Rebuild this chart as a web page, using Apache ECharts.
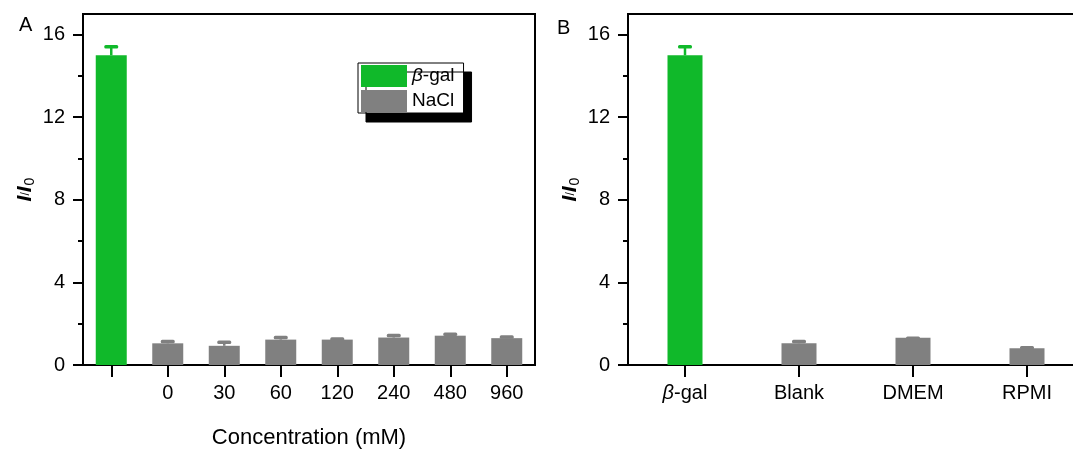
<!DOCTYPE html>
<html>
<head>
<meta charset="utf-8">
<script src="https://cdn.jsdelivr.net/npm/echarts@6/dist/echarts.min.js"></script>
<style>html,body{margin:0;padding:0;background:#fff}#c{width:1073px;height:451px}</style>
</head>
<body>
<div id="c"></div>
<script>
// ---- data ----
const catsA = ['', '0', '30', '60', '120', '240', '480', '960'];
const galA = 15.0, galErrA = 0.5;
const naclA = [1.05, 0.93, 1.23, 1.23, 1.33, 1.42, 1.3];
const naclErrA = [0.17, 0.26, 0.19, 0.11, 0.18, 0.15, 0.14];
const catsB = ['β-gal', 'Blank', 'DMEM', 'RPMI'];
const galB = 15.0, galErrB = 0.5;
const otherB = [1.05, 1.32, 0.81];
const otherErrB = [0.17, 0.06, 0.11];
const yTicks = [0, 4, 8, 12, 16];
const yMinor = [2, 6, 10, 14];

const GREEN = '#10b92a', GRAY = '#808080';
const FONT = 'Liberation Sans, Arial, sans-serif';

function errRender(params, api) {
  const x = api.value(0), v = api.value(1), e = api.value(2);
  const base = api.coord([x, v]);
  const top = api.coord([x, v + e]);
  const col = api.visual('color');
  return {
    type: 'group',
    children: [
      { type: 'line', shape: { x1: base[0], y1: base[1], x2: top[0], y2: top[1] + 1 },
        style: { stroke: col, lineWidth: 2.5 } },
      { type: 'rect', shape: { x: top[0] - 7, y: top[1], width: 14, height: 3.5, r: 1.5 },
        style: { fill: col } }
    ]
  };
}

const chart = echarts.init(document.getElementById('c'), null, { renderer: 'canvas' });

function yAxesFor(gridIndex) {
  return [
    {
      type: 'value', gridIndex, min: 0, max: 17, position: 'left',
      name: '{i|I}/{i|I}{s|0}', nameLocation: 'middle', nameGap: 46, nameRotate: 90,
      nameTextStyle: { fontFamily: FONT, color: '#000',
        rich: { i: { fontStyle: 'italic', fontWeight: 'bold', fontSize: 21, fontFamily: FONT, color: '#000' },
                s: { fontSize: 14, fontFamily: FONT, color: '#000', verticalAlign: 'bottom', padding: [9, 0, 0, 1] } } },
      axisLine: { show: true, lineStyle: { color: '#000', width: 2 } },
      axisTick: { show: true, inside: false, length: 10, lineStyle: { color: '#000', width: 2 }, customValues: yTicks },
      axisLabel: { fontFamily: FONT, fontSize: 20, color: '#000', margin: 18, customValues: yTicks },
      splitLine: { show: false }
    },
    {
      type: 'value', gridIndex, min: 0, max: 17, position: 'left', offset: 0,
      axisLine: { show: false },
      axisTick: { show: true, inside: false, length: 5, lineStyle: { color: '#000', width: 2 }, customValues: yMinor },
      axisLabel: { show: false },
      splitLine: { show: false }
    }
  ];
}

const yA = yAxesFor(0), yB = yAxesFor(1);
const xTick = { show: true, interval: 0, alignWithLabel: true, inside: false, length: 12, lineStyle: { color: '#000', width: 2 } };

const option = {
  animation: false,
  backgroundColor: '#fff',
  title: [
    { text: 'A', left: 19, top: 15, padding: 0, textStyle: { fontFamily: FONT, fontSize: 20, fontWeight: 'normal', color: '#000' } },
    { text: 'B', left: 557, top: 18, padding: 0, textStyle: { fontFamily: FONT, fontSize: 20, fontWeight: 'normal', color: '#000' } }
  ],
  grid: [
    { left: 83, top: 14, width: 452, height: 351, show: true, borderColor: '#000', borderWidth: 2,
      containLabel: false, outerBoundsMode: 'none' },
    { left: 628, top: 14, width: 456, height: 351, show: true, borderColor: '#000', borderWidth: 2,
      containLabel: false, outerBoundsMode: 'none' }
  ],
  legend: {
    data: ['β-gal', 'NaCl'],
    orient: 'vertical', left: 358, top: 63,
    icon: 'rect',
    itemWidth: 46, itemHeight: 22, itemGap: 3,
    padding: [2, 9, 1, 3],
    borderColor: '#000', borderWidth: 1, backgroundColor: '#fff',
    shadowColor: '#000', shadowOffsetX: 8, shadowOffsetY: 9, shadowBlur: 0,
    selectedMode: false,
    formatter: n => n === 'β-gal' ? '{it|β}-gal' : n,
    textStyle: { fontFamily: FONT, fontSize: 19, color: '#000',
      rich: { it: { fontStyle: 'italic', fontFamily: FONT, fontSize: 19, color: '#000' } } }
  },
  xAxis: [
    {
      type: 'category', gridIndex: 0, data: catsA,
      name: 'Concentration (mM)', nameLocation: 'middle', nameGap: 62,
      nameTextStyle: { fontFamily: FONT, fontSize: 22, color: '#000' },
      axisLine: { show: true, lineStyle: { color: '#000', width: 2 } },
      axisTick: xTick,
      axisLabel: { fontFamily: FONT, fontSize: 20, color: '#000', margin: 18, interval: 0 }
    },
    {
      type: 'category', gridIndex: 1, data: catsB,
      axisLine: { show: true, lineStyle: { color: '#000', width: 2 } },
      axisTick: xTick,
      axisLabel: { fontFamily: FONT, fontSize: 20, color: '#000', margin: 18, interval: 0,
        formatter: v => v === 'β-gal' ? '{it|β}-gal' : v,
        rich: { it: { fontStyle: 'italic', fontFamily: FONT, fontSize: 20, color: '#000' } } }
    }
  ],
  yAxis: [yA[0], yA[1], yB[0], yB[1]],
  series: [
    { name: 'β-gal', type: 'bar', xAxisIndex: 0, yAxisIndex: 0, barWidth: 31, barGap: '-100%',
      itemStyle: { color: GREEN }, data: [galA].concat(naclA.map(() => '-')) },
    { name: 'NaCl', type: 'bar', xAxisIndex: 0, yAxisIndex: 0, barWidth: 31, barGap: '-100%',
      itemStyle: { color: GRAY }, data: ['-'].concat(naclA) },
    { name: 'errA-gal', type: 'custom', xAxisIndex: 0, yAxisIndex: 0, renderItem: errRender,
      itemStyle: { color: GREEN }, z: 1, data: [[0, galA, galErrA]] },
    { name: 'errA-nacl', type: 'custom', xAxisIndex: 0, yAxisIndex: 0, renderItem: errRender,
      itemStyle: { color: GRAY }, z: 1, data: naclA.map((v, i) => [i + 1, v, naclErrA[i]]) },
    { name: 'B-gal', type: 'bar', xAxisIndex: 1, yAxisIndex: 2, barWidth: 35, barGap: '-100%',
      itemStyle: { color: GREEN }, data: [galB, '-', '-', '-'] },
    { name: 'B-other', type: 'bar', xAxisIndex: 1, yAxisIndex: 2, barWidth: 35, barGap: '-100%',
      itemStyle: { color: GRAY }, data: ['-'].concat(otherB) },
    { name: 'errB-gal', type: 'custom', xAxisIndex: 1, yAxisIndex: 2, renderItem: errRender,
      itemStyle: { color: GREEN }, z: 1, data: [[0, galB, galErrB]] },
    { name: 'errB-other', type: 'custom', xAxisIndex: 1, yAxisIndex: 2, renderItem: errRender,
      itemStyle: { color: GRAY }, z: 1, data: otherB.map((v, i) => [i + 1, v, otherErrB[i]]) }
  ]
};
chart.setOption(option);
</script>
</body>
</html>
